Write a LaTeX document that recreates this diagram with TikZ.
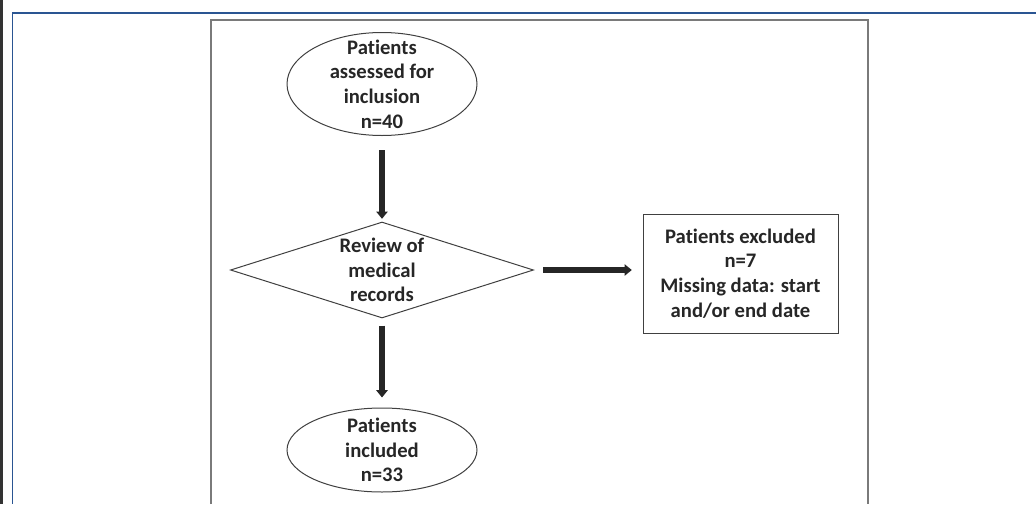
\documentclass[tikz,border=0pt]{standalone}
\usepackage{fontspec}
\setmainfont{Carlito}[Ligatures=NoCommon]
\usetikzlibrary{arrows.meta,shapes.geometric,calc}
\definecolor{frameBlue}{HTML}{2A5592}
\definecolor{frameGray}{HTML}{7A7A7A}
\definecolor{boxLine}{HTML}{404040}
\definecolor{boxText}{HTML}{262626}
\tikzset{flow text/.style={align=center, text=boxText, inner sep=0pt,
		font=\fontsize{15.5}{18.5}\selectfont\bfseries}}
\tikzset{flow oval/.style={flow text, ellipse, draw=boxLine, line width=0.75pt, inner ysep=-10pt}}
\tikzset{flow check/.style={flow text, diamond, aspect=3.16, draw=boxLine, line width=0.75pt, inner ysep=-6pt}}
\tikzset{flow box/.style={flow text, rectangle, draw=boxLine, line width=0.75pt}}
\tikzset{flow arrow/.style={draw=black!85, line width=3.9pt,
		-{Triangle[width=8.5pt,length=5.5pt]}}}

\begin{document}
\begin{tikzpicture}[x=0.75pt, y=-0.75pt]
	\useasboundingbox (0,0) rectangle (1036,504);
	% frames
	\draw[black!80, line width=2.25pt] (1.5,0) -- (1.5,504);
	\draw[frameBlue, line width=1.2pt] (1036,13) -- (12.5,13) -- (12.5,504);
	\draw[frameGray, line width=1.5pt] (211,504) -- (211,19.5) -- (868,19.5) -- (868,504);
	% nodes
	\node[flow oval, minimum width=142.5pt, minimum height=77.25pt] at (382,84) (assessed) {Patients\\assessed for\\inclusion\\n=40};
	\node[flow check, minimum width=227.25pt, minimum height=72pt] at (382,270) (review) {Review of\\medical\\records};
	\node[flow box, minimum width=146.25pt, minimum height=89.25pt] at (740.5,273.5) (excluded) {Patients excluded\\n=7\\Missing data: start\\and/or end date};
	\node[flow oval, minimum width=142.5pt, minimum height=63pt] at (382,450) (included) {Patients\\included\\n=33};
	% arrows
	\path (assessed) edge[flow arrow, shorten <=10.5pt, shorten >=2pt] (review);
	\path (review.east) edge[flow arrow, shorten <=6.75pt, shorten >=8pt] (review.east -| excluded.west);
	\path (review) edge[flow arrow, shorten <=5.25pt, shorten >=7.5pt] (included);
\end{tikzpicture}
\end{document}
